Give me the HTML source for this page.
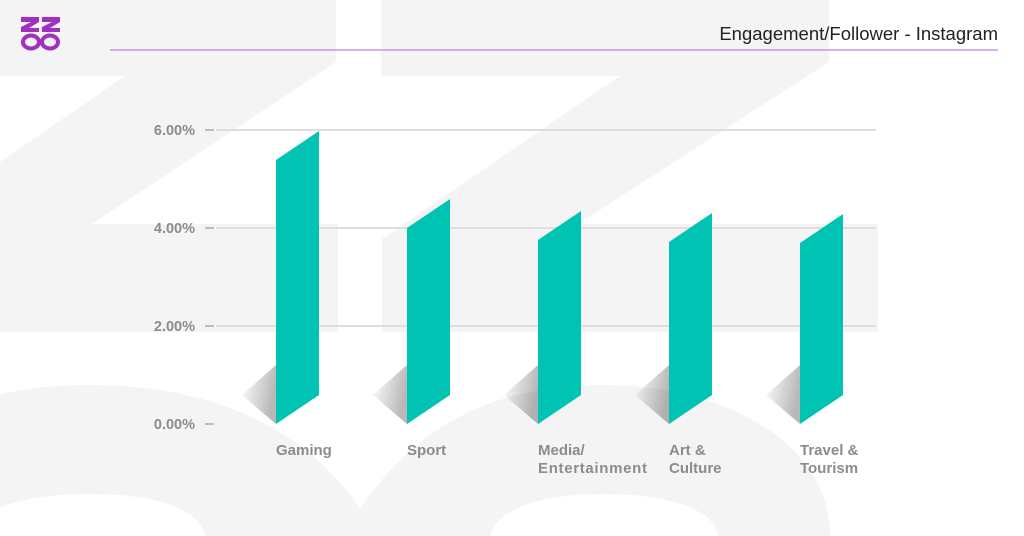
<!DOCTYPE html>
<html><head><meta charset="utf-8"><style>
html,body{margin:0;padding:0;background:#fff;}
svg{display:block;}
</style></head><body>
<svg width="1024" height="536" viewBox="0 0 1024 536" xmlns="http://www.w3.org/2000/svg" font-family="Liberation Sans, sans-serif">
<defs>
<linearGradient id="sh" x1="1" y1="0.3" x2="0" y2="0">
<stop offset="0" stop-color="#000" stop-opacity="0.28"/>
<stop offset="1" stop-color="#000" stop-opacity="0"/>
</linearGradient>
</defs>
<g fill="#f4f4f4">
<polygon points="0,0 336,0 336,62 92,224 338,224 338,332 0,332 0,162 125,76 0,76"/>
<polygon points="381,0 829,0 829,62 578,224 878,224 878,332 382,332 382,239 620,76 381,76"/>
<path fill-rule="evenodd" d="M-130,536 C-130,420 -20,385 90,385 C200,385 300,420 360,509 C420,420 500,385 605,385 C720,385 830,440 830,536 Z M-25,536 C-25,510 20,494 90,494 C160,494 200,510 205,536 Z M490,536 C495,510 540,494 603,494 C670,494 715,510 718,536 Z"/>
</g>
<g fill="#a030c0">
<polygon points="21,17 39,17 39,22 29,28 39,28 39,32 21,32 21,27 31,22 21,22"/>
<polygon points="42,17 60,17 60,22 50,28 60,28 60,32 42,32 42,27 52,22 42,22"/>
</g>
<g fill="none" stroke="#a030c0" stroke-width="4">
<ellipse cx="31" cy="42" rx="8" ry="6.5"/>
<ellipse cx="50" cy="42" rx="8" ry="6.5"/>
</g>
<text x="998" y="40" text-anchor="end" font-size="18.5" fill="#222">Engagement/Follower - Instagram</text>
<line x1="110" y1="50" x2="998" y2="50" stroke="#c77ddb" stroke-width="1.3"/>
<g stroke="#dedede" stroke-width="2">
<line x1="216" y1="130" x2="876" y2="130"/>
<line x1="216" y1="228" x2="876" y2="228"/>
<line x1="216" y1="326" x2="876" y2="326"/>
</g>
<g stroke="#aaa" stroke-width="1.5">
<line x1="205" y1="130" x2="214" y2="130"/>
<line x1="205" y1="228" x2="214" y2="228"/>
<line x1="205" y1="326" x2="214" y2="326"/>
<line x1="205" y1="424" x2="214" y2="424"/>
</g>
<g font-size="14.5" font-weight="bold" fill="#8c8c8c" text-anchor="end">
<text x="195" y="135">6.00%</text>
<text x="195" y="233">4.00%</text>
<text x="195" y="331">2.00%</text>
<text x="195" y="429">0.00%</text>
</g>
<g fill="url(#sh)">
<polygon points="276,424 276,365 242,395"/>
<polygon points="407,424 407,365 373,395"/>
<polygon points="538,424 538,365 504,395"/>
<polygon points="669,424 669,365 635,395"/>
<polygon points="800,424 800,365 766,395"/>
</g>
<g fill="#00c3b3">
<polygon points="276,424 276,160 319,131 319,395"/>
<polygon points="407,424 407,228 450,199 450,395"/>
<polygon points="538,424 538,240 581,211 581,395"/>
<polygon points="669,424 669,242 712,213 712,395"/>
<polygon points="800,424 800,243 843,214 843,395"/>
</g>
<g font-size="15" font-weight="bold" fill="#8c8c8c">
<text x="276" y="455">Gaming</text>
<text x="407" y="455">Sport</text>
<text x="538" y="455">Media/</text>
<text x="538" y="473" textLength="109">Entertainment</text>
<text x="669" y="455">Art &amp;</text>
<text x="669" y="473">Culture</text>
<text x="800" y="455">Travel &amp;</text>
<text x="800" y="473">Tourism</text>
</g>
</svg>
</body></html>
